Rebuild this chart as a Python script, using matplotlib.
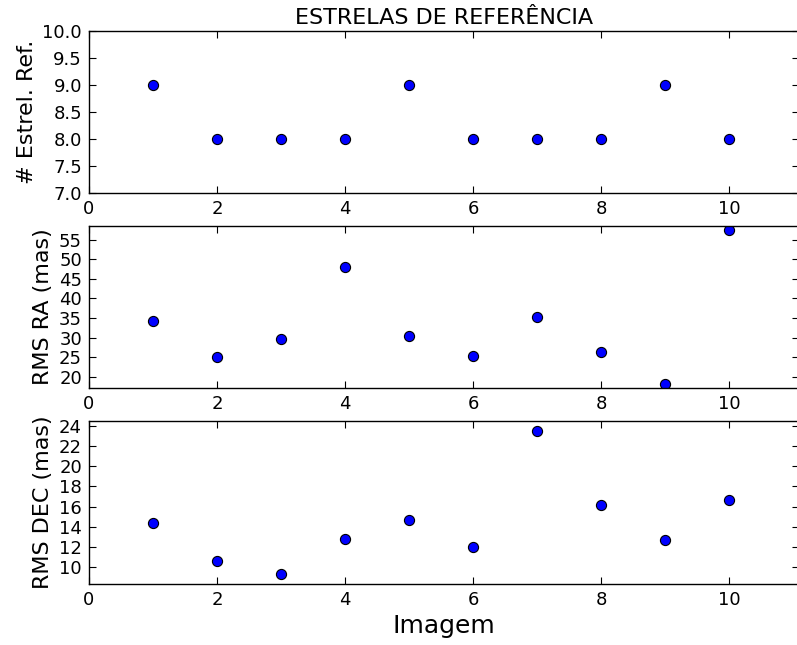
#!/usr/bin/env python3
"""Estrelas de referência: número de estrelas e RMS em RA/DEC por imagem."""

import matplotlib
matplotlib.use("Agg")
import matplotlib.pyplot as plt

# ── Dados ───────────────────────────────────────────────────────────────────
imagens = [1, 2, 3, 4, 5, 6, 7, 8, 9, 10]
n_estrelas = [9, 8, 8, 8, 9, 8, 8, 8, 9, 8]
rms_ra = [34.2, 25.1, 29.6, 48.1, 30.4, 25.4, 35.2, 26.4, 18.1, 57.5]
rms_dec = [14.37, 10.53, 9.27, 12.77, 14.7, 11.97, 23.53, 16.13, 12.63, 16.67]

W, H = 797, 645
LEFT = 89 / W
WIDTH = (799.4 - 89) / W


def panel(fig, top_px, bot_px):
    return fig.add_axes([LEFT, 1 - bot_px / H, WIDTH, (bot_px - top_px) / H])


def style_ax(ax):
    ax.tick_params(direction="in", top=True, right=True, labelsize=13,
                   length=5, width=0.8, pad=5)
    for s in ax.spines.values():
        s.set_linewidth(1.0)
    ax.set_xlim(0, 11.1)
    ax.set_xticks([0, 2, 4, 6, 8, 10])


fig = plt.figure(figsize=(W / 100, H / 100), dpi=100)

mk = dict(linestyle="none", marker="o", markersize=7.3, markerfacecolor="#0000ff",
          markeredgecolor="black", markeredgewidth=0.8)

# Painel 1
ax1 = panel(fig, 31, 193)
ax1.plot(imagens, n_estrelas, **mk)
ax1.set_ylim(min(n_estrelas) - 1, max(n_estrelas) + 1)
ax1.set_yticks([7.0, 7.5, 8.0, 8.5, 9.0, 9.5, 10.0])
ax1.set_yticklabels([f"{v:.1f}" for v in ax1.get_yticks()])
ax1.set_ylabel("# Estrel. Ref.", fontsize=16)
ax1.set_title("ESTRELAS DE REFERÊNCIA", fontsize=16, pad=5)
style_ax(ax1)

# Painel 2
ax2 = panel(fig, 226, 388)
ax2.plot(imagens, rms_ra, **mk)
ax2.set_ylim(min(rms_ra) - 1, max(rms_ra) + 1)
ax2.set_yticks([20, 25, 30, 35, 40, 45, 50, 55])
ax2.set_ylabel("RMS RA (mas)", fontsize=16)
style_ax(ax2)

# Painel 3
ax3 = panel(fig, 421, 584)
ax3.plot(imagens, rms_dec, **mk)
ax3.set_ylim(min(rms_dec) - 1, max(rms_dec) + 1)
ax3.set_yticks([10, 12, 14, 16, 18, 20, 22, 24])
ax3.set_ylabel("RMS DEC (mas)", fontsize=16)
ax3.set_xlabel("Imagem", fontsize=18)
style_ax(ax3)

fig.savefig("out.png", dpi=100, facecolor="white")
plt.close(fig)
